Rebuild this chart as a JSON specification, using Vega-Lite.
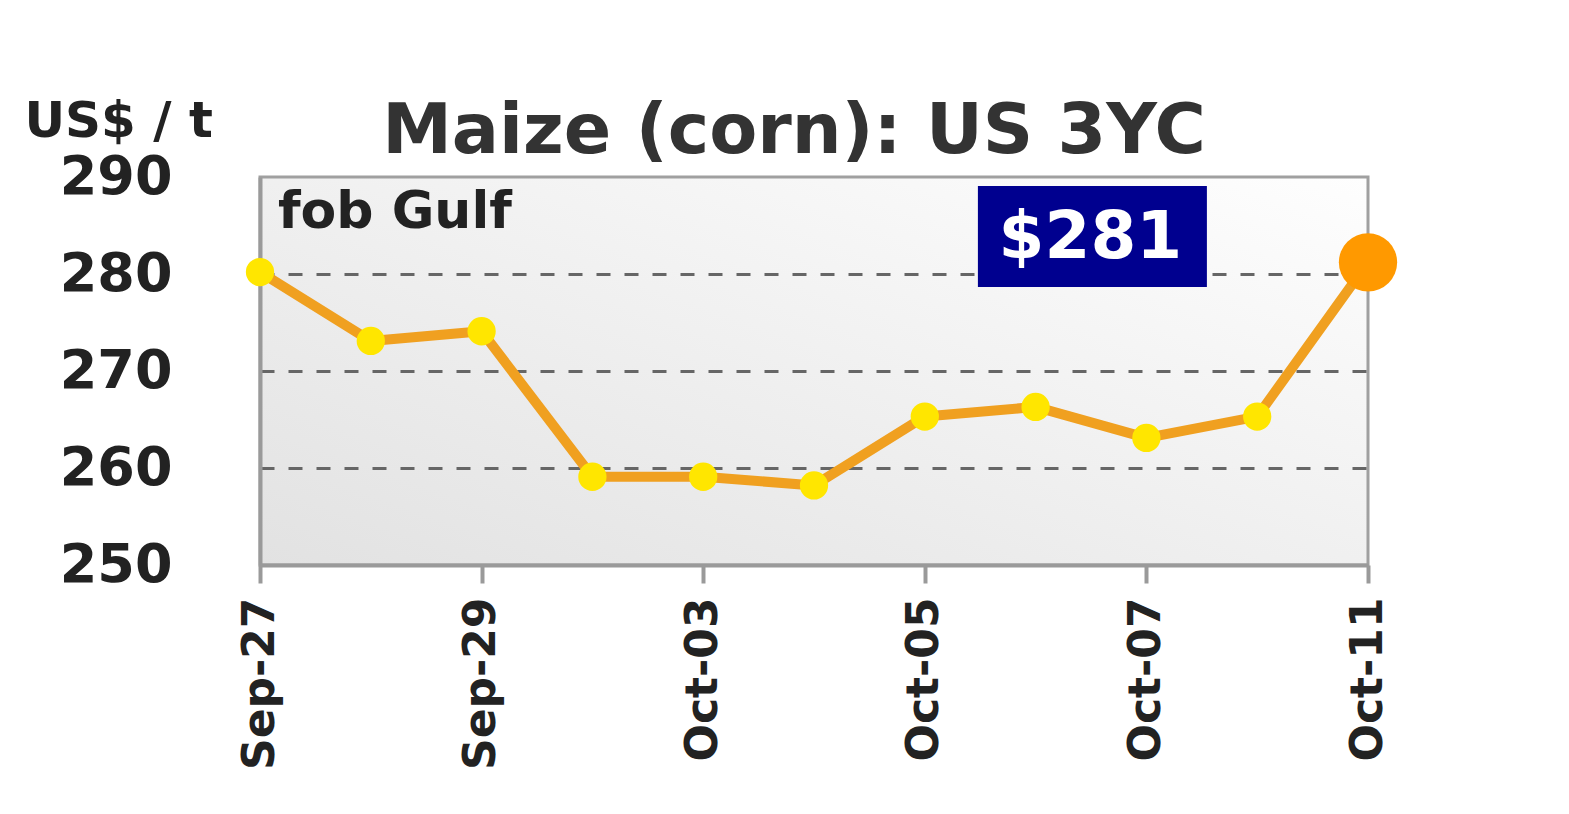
{
  "$schema": "https://vega.github.io/schema/vega-lite/v6.json",
  "autosize": {"type": "none"},
  "width": 1108,
  "height": 388,
  "padding": {"left": 260, "top": 177, "right": 201, "bottom": 249},
  "background": "white",
  "title": {
    "text": "Maize (corn): US 3YC",
    "font": "DejaVu Sans",
    "fontWeight": "bold",
    "fontSize": 70,
    "color": "#333333",
    "anchor": "middle",
    "dx": -20,
    "offset": -72
  },
  "view": {
    "fill": {"gradient": "linear", "x1": 0, "y1": 1, "x2": 1, "y2": 0,
      "stops": [{"offset": 0, "color": "#e2e2e2"}, {"offset": 1, "color": "#fefefe"}]},
    "stroke": "#a0a0a0",
    "strokeWidth": 3
  },
  "datasets": {
    "prices": [
      {"date": "Sep-27", "price": 280.2},
      {"date": "Sep-28", "price": 273.1},
      {"date": "Sep-29", "price": 274.1},
      {"date": "Sep-30", "price": 259.1},
      {"date": "Oct-03", "price": 259.1},
      {"date": "Oct-04", "price": 258.2},
      {"date": "Oct-05", "price": 265.3},
      {"date": "Oct-06", "price": 266.3},
      {"date": "Oct-07", "price": 263.1},
      {"date": "Oct-10", "price": 265.3},
      {"date": "Oct-11", "price": 281.2}
    ],
    "notes": [
      {"date": "Sep-27", "price": 286.4, "label": "fob Gulf", "kind": "sub"},
      {"date": "Oct-07", "price": 283.87, "label": "$281", "kind": "badge"}
    ]
  },
  "encoding": {
    "x": {
      "field": "date", "type": "ordinal", "sort": null,
      "scale": {"type": "point", "padding": 0,
        "domain": ["Sep-27","Sep-28","Sep-29","Sep-30","Oct-03","Oct-04","Oct-05","Oct-06","Oct-07","Oct-10","Oct-11"]},
      "axis": {
        "title": null,
        "values": ["Sep-27","Sep-29","Oct-03","Oct-05","Oct-07","Oct-11"],
        "labelAngle": -90,
        "labelFont": "DejaVu Sans",
        "labelFontWeight": "bold",
        "labelFontSize": 44,
        "labelColor": "#222222",
        "labelPadding": 14,
        "tickSize": 18,
        "tickWidth": 4,
        "tickColor": "#9a9a9a",
        "domainColor": "#9a9a9a",
        "domainWidth": 4,
        "grid": false
      }
    },
    "y": {
      "field": "price", "type": "quantitative",
      "scale": {"domain": [250, 290], "nice": false, "zero": false},
      "axis": {
        "title": "US$ / t",
        "titleAngle": 0,
        "titleAlign": "left",
        "titleBaseline": "middle",
        "titleX": -236,
        "titleY": -56,
        "titleFont": "DejaVu Sans",
        "titleFontWeight": "bold",
        "titleFontSize": 50,
        "titleColor": "#222222",
        "values": [250, 260, 270, 280, 290],
        "labelFont": "DejaVu Sans",
        "labelFontWeight": "bold",
        "labelFontSize": 54,
        "labelColor": "#222222",
        "labelPadding": 88,
        "labelBaseline": "middle",
        "ticks": false,
        "domainColor": "#9a9a9a",
        "domainWidth": 4,
        "grid": true,
        "gridColor": "#666666",
        "gridWidth": 3,
        "gridDash": [14, 14],
        "gridOpacity": {"condition": {"test": "datum.value == 250 || datum.value == 290", "value": 0}, "value": 1}
      }
    }
  },
  "layer": [
    {
      "data": {"name": "prices"},
      "mark": {"type": "line", "color": "#f0a020", "strokeWidth": 10, "strokeJoin": "round"}
    },
    {
      "data": {"name": "prices"},
      "transform": [{"filter": "datum.date != 'Oct-11'"}],
      "mark": {"type": "point", "shape": "circle", "filled": true, "color": "#ffe600", "size": 800, "opacity": 1}
    },
    {
      "data": {"name": "prices"},
      "transform": [{"filter": "datum.date == 'Oct-11'"}],
      "mark": {"type": "point", "shape": "circle", "filled": true, "color": "#ff9900", "size": 3400, "opacity": 1}
    },
    {
      "data": {"name": "notes"},
      "transform": [{"filter": "datum.kind == 'sub'"}],
      "mark": {"type": "text", "align": "left", "baseline": "middle", "dx": 18, "font": "DejaVu Sans", "fontWeight": "bold", "fontSize": 52, "color": "#222222"},
      "encoding": {"text": {"field": "label"}}
    },
    {
      "data": {"name": "notes"},
      "transform": [{"filter": "datum.kind == 'badge'"}],
      "mark": {"type": "point", "shape": "M-1,-0.441H1V0.441H-1Z", "filled": true, "color": "#00008f", "size": 52441, "opacity": 1, "xOffset": -54}
    },
    {
      "data": {"name": "notes"},
      "transform": [{"filter": "datum.kind == 'badge'"}],
      "mark": {"type": "text", "align": "center", "baseline": "middle", "dx": -56, "dy": 2, "font": "DejaVu Sans", "fontWeight": "bold", "fontSize": 66, "color": "#ffffff"},
      "encoding": {"text": {"field": "label"}}
    }
  ]
}
